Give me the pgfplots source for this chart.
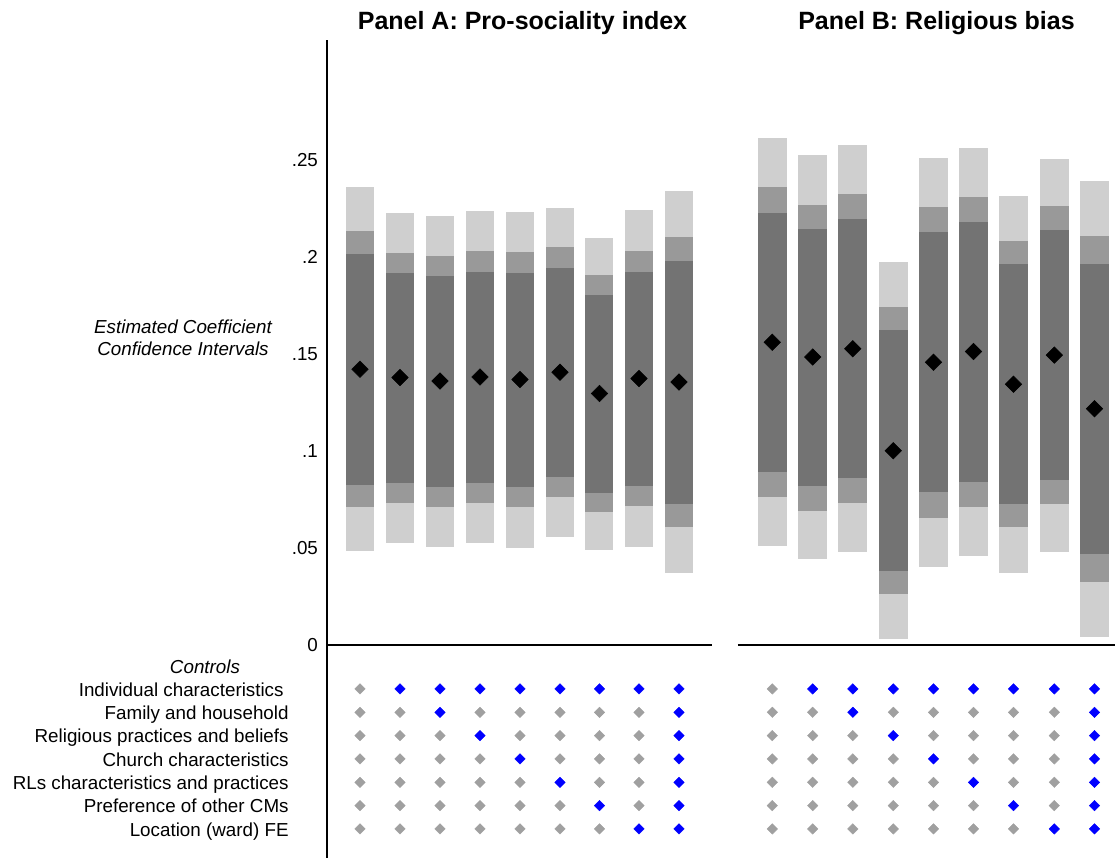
\documentclass[border=0pt]{standalone}
\usepackage{fontspec}
\setmainfont{Liberation Sans}
\usepackage{pgfplots}
\usepackage{pgfplotstable}
\pgfplotsset{compat=1.18}

\definecolor{ci99}{gray}{0.812}
\definecolor{ci95}{gray}{0.60}
\definecolor{ci90}{gray}{0.451}
\definecolor{ctrlgray}{gray}{0.627}

% Estimates and 90/95/99% confidence bounds (x = horizontal position of the specification)
\pgfplotstableread{
x      b      lo90   hi90   lo95   hi95   lo99   hi99
360    0.1421 0.0825 0.2015 0.0711 0.2134 0.0486 0.2361
400    0.1378 0.0835 0.1918 0.0732 0.2021 0.0526 0.2227
440    0.1360 0.0814 0.1902 0.0711 0.2005 0.0507 0.2211
480    0.1381 0.0835 0.1923 0.0732 0.2031 0.0526 0.2237
520    0.1368 0.0814 0.1918 0.0711 0.2026 0.0502 0.2232
560    0.1406 0.0866 0.1943 0.0763 0.2052 0.0558 0.2253
599.5  0.1296 0.0784 0.1804 0.0686 0.1907 0.0490 0.2098
639    0.1373 0.0820 0.1923 0.0716 0.2031 0.0507 0.2242
679    0.1355 0.0727 0.1979 0.0608 0.2103 0.0373 0.2340
}\panelA

\pgfplotstableread{
x      b      lo90   hi90   lo95   hi95   lo99   hi99
772.3  0.1560 0.0892 0.2227 0.0763 0.2361 0.0510 0.2612
812.7  0.1484 0.0820 0.2144 0.0691 0.2268 0.0445 0.2526
852.8  0.1527 0.0861 0.2196 0.0732 0.2325 0.0479 0.2577
893.3  0.1001 0.0381 0.1624 0.0263 0.1742 0.0028 0.1974
933.5  0.1457 0.0789 0.2129 0.0655 0.2258 0.0404 0.2510
973.5  0.1512 0.0840 0.2180 0.0711 0.2309 0.0460 0.2562
1013.5 0.1344 0.0727 0.1964 0.0610 0.2082 0.0373 0.2314
1054.3 0.1494 0.0851 0.2139 0.0727 0.2263 0.0481 0.2505
1094.5 0.1218 0.0469 0.1964 0.0325 0.2108 0.0043 0.2392
}\panelB

% Which control groups enter each specification (1 = included)
\pgfplotstableread{
x     r1 r2 r3 r4 r5 r6 r7
360   0  0  0  0  0  0  0
400   1  0  0  0  0  0  0
440   1  1  0  0  0  0  0
480   1  0  1  0  0  0  0
520   1  0  0  1  0  0  0
560   1  0  0  0  1  0  0
599.5 1  0  0  0  0  1  0
639   1  0  0  0  0  0  1
679   1  1  1  1  1  1  1
}\ctrlA

\pgfplotstableread{
x      r1 r2 r3 r4 r5 r6 r7
772.3  0  0  0  0  0  0  0
812.7  1  0  0  0  0  0  0
852.8  1  1  0  0  0  0  0
893.3  1  0  1  0  0  0  0
933.5  1  0  0  1  0  0  0
973.5  1  0  0  0  1  0  0
1013.5 1  0  0  0  0  1  0
1054.3 1  0  0  0  0  0  1
1094.5 1  1  1  1  1  1  1
}\ctrlB

\newcommand{\lab}{\fontsize{9.4}{11}\selectfont}

\pgfplotsset{
  ciband/.style n args={2}{only marks, mark=none, forget plot,
    error bars/.cd, y dir=both, y explicit, error mark=none,
    error bar style={line width=#1, draw=#2, line cap=butt}},
  estimate/.style={only marks, mark=square*, mark size=2.9pt,
    mark options={rotate=45, fill=black, draw=black, line width=0.3pt}},
  ctrl/.style={scatter, only marks, mark=square*, mark size=1.85pt,
    point meta=explicit symbolic,
    mark options={rotate=45, line width=0.2pt},
    scatter/classes={0={draw=ctrlgray, fill=ctrlgray}, 1={draw=blue, fill=blue}}},
}

\begin{document}
\begin{tikzpicture}
\begin{axis}[
  scale only axis,
  width=394pt, height=409pt,
  xmin=327, xmax=1115,
  ymin=-0.1098, ymax=0.3119,
  axis x line=none,
  axis y line*=left,
  y axis line style={line width=0.9pt},
  ytick={0,0.05,0.1,0.15,0.2,0.25},
  yticklabels={0,.05,.1,.15,.2,.25},
  major tick length=0pt,
  yticklabel style={font=\lab, xshift=-1pt},
  /pgf/number format/assume math mode=true,
  clip=false,
]
% zero reference lines for each panel
\addplot[black, line width=0.9pt, forget plot] coordinates {(327,0) (712,0)};
\addplot[black, line width=0.9pt, forget plot] coordinates {(738,0) (1115,0)};

% Panel A intervals
\addplot[ciband={14pt}{ci99}] table[x=x, y=b,
  y error plus expr=\thisrow{hi99}-\thisrow{b}, y error minus expr=\thisrow{b}-\thisrow{lo99}] \panelA;
\addplot[ciband={14pt}{ci95}] table[x=x, y=b,
  y error plus expr=\thisrow{hi95}-\thisrow{b}, y error minus expr=\thisrow{b}-\thisrow{lo95}] \panelA;
\addplot[ciband={14pt}{ci90}] table[x=x, y=b,
  y error plus expr=\thisrow{hi90}-\thisrow{b}, y error minus expr=\thisrow{b}-\thisrow{lo90}] \panelA;
\addplot[estimate] table[x=x, y=b] \panelA;

% Panel B intervals
\addplot[ciband={14.5pt}{ci99}] table[x=x, y=b,
  y error plus expr=\thisrow{hi99}-\thisrow{b}, y error minus expr=\thisrow{b}-\thisrow{lo99}] \panelB;
\addplot[ciband={14.5pt}{ci95}] table[x=x, y=b,
  y error plus expr=\thisrow{hi95}-\thisrow{b}, y error minus expr=\thisrow{b}-\thisrow{lo95}] \panelB;
\addplot[ciband={14.5pt}{ci90}] table[x=x, y=b,
  y error plus expr=\thisrow{hi90}-\thisrow{b}, y error minus expr=\thisrow{b}-\thisrow{lo90}] \panelB;
\addplot[estimate] table[x=x, y=b] \panelB;

% control indicators, one row per control group
\pgfplotsinvokeforeach{1,...,7}{
  \addplot[ctrl] table[x=x, y expr={-0.0227-0.01203*(#1-1)}, meta=r#1] \ctrlA;
  \addplot[ctrl] table[x=x, y expr={-0.0227-0.01203*(#1-1)}, meta=r#1] \ctrlB;
}

% titles and labels
\node[font=\fontsize{12.5}{15}\selectfont\bfseries, anchor=base] at (axis cs:522.5,0.3175) {Panel A: Pro-sociality index};
\node[font=\fontsize{12.5}{15}\selectfont\bfseries, anchor=base] at (axis cs:936.5,0.3175) {Panel B: Religious bias};
\node[font=\lab\itshape, align=center] at (axis cs:183,0.1585) {Estimated Coefficient\\Confidence Intervals};
\node[font=\lab\itshape] at (axis cs:205,-0.0112) {Controls};
\node[font=\lab, anchor=mid east, inner sep=0pt] at (axis cs:284,-0.0237) {Individual characteristics};
\node[font=\lab, anchor=mid east, inner sep=0pt] at (axis cs:289,-0.0357) {Family and household};
\node[font=\lab, anchor=mid east, inner sep=0pt] at (axis cs:289,-0.0478) {Religious practices and beliefs};
\node[font=\lab, anchor=mid east, inner sep=0pt] at (axis cs:289,-0.0598) {Church characteristics};
\node[font=\lab, anchor=mid east, inner sep=0pt] at (axis cs:289,-0.0718) {RLs characteristics and practices};
\node[font=\lab, anchor=mid east, inner sep=0pt] at (axis cs:289,-0.0839) {Preference of other CMs};
\node[font=\lab, anchor=mid east, inner sep=0pt] at (axis cs:289,-0.0959) {Location (ward) FE};

\coordinate (bbtl) at (axis cs:0,0.33247);
\coordinate (bbbr) at (axis cs:1115,-0.11031);
\end{axis}
\pgfresetboundingbox
\useasboundingbox (bbtl) rectangle (bbbr);
\end{tikzpicture}
\end{document}
